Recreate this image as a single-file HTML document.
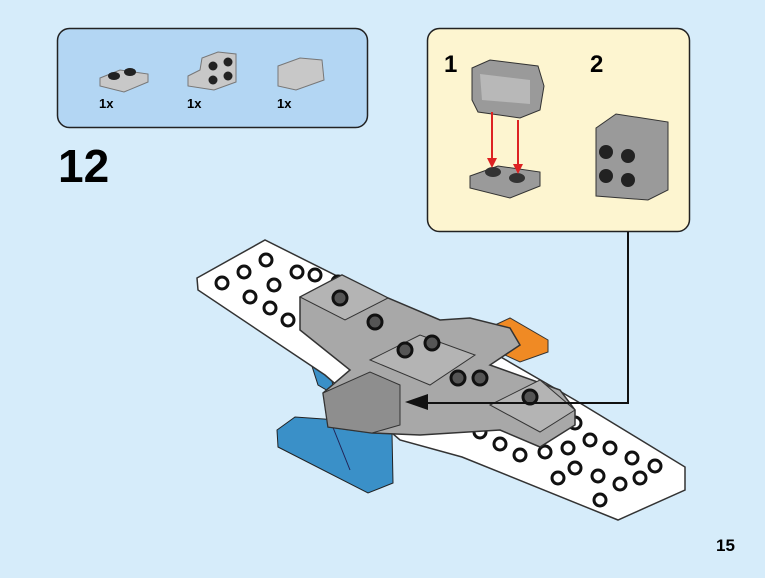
<!DOCTYPE html>
<html><head><style>
body{margin:0;background:#d6ecfa;}
svg{display:block}
text{font-family:"Liberation Sans",sans-serif;font-weight:bold;}
</style></head><body>
<svg width="765" height="578" viewBox="0 0 765 578">
<rect width="765" height="578" fill="#d6ecfa"/>
<rect x="57.5" y="28.5" width="310" height="99" rx="12" fill="#b3d6f3" stroke="#222" stroke-width="1.5"/>
<polygon points="100,78 120,70 148,74 148,82 124,92 100,86" fill="#c8c8c8" stroke="#777"/>
<ellipse cx="114" cy="76" rx="6" ry="4" fill="#222"/><ellipse cx="130" cy="72" rx="6" ry="4" fill="#222"/>
<text x="99" y="108" font-size="13">1x</text>
<polygon points="188,76 200,70 202,58 218,52 236,54 236,82 214,90 188,86" fill="#c8c8c8" stroke="#777"/>
<circle cx="213" cy="66" r="4.5" fill="#222"/><circle cx="228" cy="62" r="4.5" fill="#222"/>
<circle cx="213" cy="80" r="4.5" fill="#222"/><circle cx="228" cy="76" r="4.5" fill="#222"/>
<text x="187" y="108" font-size="13">1x</text>
<polygon points="278,66 300,58 322,60 324,80 296,90 278,86" fill="#c8c8c8" stroke="#777"/>
<text x="277" y="108" font-size="13">1x</text>
<text x="58" y="182" font-size="46">12</text>
<rect x="427.5" y="28.5" width="262" height="203" rx="12" fill="#fdf5d0" stroke="#222" stroke-width="1.5"/>
<text x="444" y="72" font-size="24">1</text>
<text x="590" y="72" font-size="24">2</text>
<polygon points="472,68 490,60 538,66 544,86 540,110 520,118 478,112 472,100" fill="#9a9a9a" stroke="#333"/>
<polygon points="480,74 530,80 530,104 482,100" fill="#b8b8b8"/>
<polygon points="470,176 498,166 540,172 540,186 510,198 470,188" fill="#9a9a9a" stroke="#333"/>
<ellipse cx="493" cy="172" rx="8" ry="5" fill="#333"/><ellipse cx="517" cy="178" rx="8" ry="5" fill="#333"/>
<line x1="492" y1="112" x2="492" y2="162" stroke="#d22" stroke-width="2"/>
<polygon points="487,158 497,158 492,168" fill="#d22"/>
<line x1="518" y1="120" x2="518" y2="168" stroke="#d22" stroke-width="2"/>
<polygon points="513,164 523,164 518,174" fill="#d22"/>
<polygon points="596,128 616,114 668,122 668,190 648,200 596,196" fill="#9a9a9a" stroke="#333"/>
<circle cx="606" cy="152" r="7" fill="#222"/><circle cx="628" cy="156" r="7" fill="#222"/>
<circle cx="606" cy="176" r="7" fill="#222"/><circle cx="628" cy="180" r="7" fill="#222"/>
<!-- model -->
<polygon points="310,360 330,372 335,395 318,385" fill="#3a90c8" stroke="#222"/>
<polygon points="197,278 265,240 385,300 480,345 575,400 685,467 685,490 618,520 462,457 400,440 325,375 198,290" fill="#fff" stroke="#333" stroke-width="1.5"/>
<g fill="#fff" stroke="#111" stroke-width="3">
<circle cx="222" cy="283" r="6"/><circle cx="244" cy="272" r="6"/><circle cx="266" cy="260" r="6"/>
<circle cx="250" cy="297" r="6"/><circle cx="274" cy="285" r="6"/><circle cx="297" cy="272" r="6"/>
<circle cx="270" cy="308" r="6"/><circle cx="315" cy="275" r="6"/><circle cx="338" cy="282" r="6"/>
<circle cx="288" cy="320" r="6"/><circle cx="322" cy="338" r="6"/><circle cx="340" cy="350" r="6"/>
<circle cx="455" cy="420" r="6"/><circle cx="480" cy="432" r="6"/><circle cx="500" cy="444" r="6"/>
<circle cx="520" cy="455" r="6"/><circle cx="545" cy="452" r="6"/><circle cx="568" cy="448" r="6"/>
<circle cx="590" cy="440" r="6"/><circle cx="610" cy="448" r="6"/><circle cx="632" cy="458" r="6"/>
<circle cx="655" cy="466" r="6"/><circle cx="575" cy="468" r="6"/><circle cx="598" cy="476" r="6"/>
<circle cx="620" cy="484" r="6"/><circle cx="640" cy="478" r="6"/><circle cx="600" cy="500" r="6"/>
<circle cx="558" cy="478" r="6"/><circle cx="575" cy="423" r="6"/>
</g>
<polygon points="495,325 510,318 548,340 548,352 520,362 505,355" fill="#f08a24" stroke="#333"/>
<polygon points="277,430 295,417 338,420 392,433 393,483 368,493 278,447" fill="#3a90c8" stroke="#222"/>
<line x1="330" y1="420" x2="350" y2="470" stroke="#225" stroke-width="1"/>
<polygon points="300,297 342,275 388,298 440,320 470,318 510,328 520,345 490,365 560,390 575,410 575,425 540,447 500,430 420,435 372,433 328,427 323,393 350,370 300,330" fill="#a8a8a8" stroke="#333" stroke-width="1.5"/>
<polygon points="300,297 342,275 388,298 345,320" fill="#b4b4b4" stroke="#333"/>
<polygon points="370,360 420,335 475,355 430,385" fill="#b4b4b4" stroke="#333"/>
<polygon points="490,405 540,380 575,410 540,432" fill="#b4b4b4" stroke="#333"/>
<polygon points="323,393 370,372 400,385 400,425 372,433 328,427" fill="#8e8e8e" stroke="#333"/>
<g fill="#555" stroke="#111" stroke-width="3"><circle cx="340" cy="298" r="7"/><circle cx="405" cy="350" r="7"/><circle cx="432" cy="343" r="7"/><circle cx="375" cy="322" r="7"/><circle cx="480" cy="378" r="7"/><circle cx="530" cy="397" r="7"/><circle cx="458" cy="378" r="7"/></g>
<polyline points="628,232 628,403 425,403" fill="none" stroke="#111" stroke-width="2"/>
<polygon points="405,402 428,394 428,410" fill="#111"/>
<text x="716" y="551" font-size="17">15</text>
</svg>
</body></html>
